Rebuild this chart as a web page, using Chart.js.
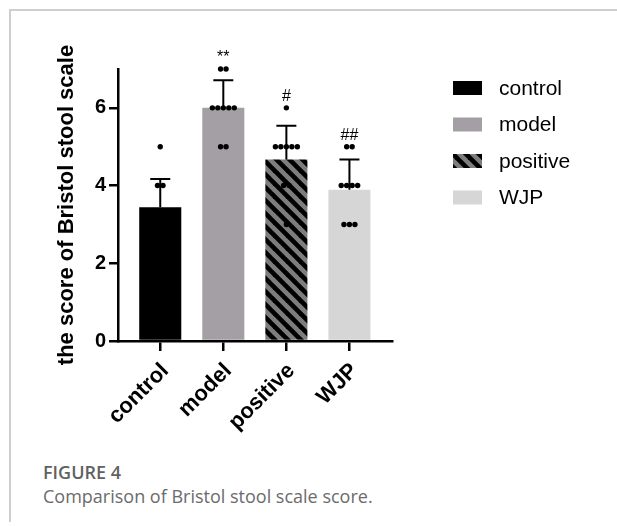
<!DOCTYPE html>
<html>
<head>
<meta charset="utf-8">
<script src="https://cdn.jsdelivr.net/npm/chart.js@4"></script>
<style>
  html, body { margin: 0; padding: 0; background: #fff; }
  #page { position: relative; width: 617px; height: 526px; overflow: hidden; }
  #frame { position: absolute; left: 9px; top: 9px; right: 0; bottom: 4px;
           border-top: 2px solid #cfcfcf; border-left: 2px solid #cfcfcf; }
  #wrap { position: absolute; left: 0; top: 0; width: 617px; height: 440px; }
  #caption { position: absolute; left: 43px; top: 460px; font-family: "Open Sans", sans-serif;
             font-size: 18px; line-height: 24px; color: #6b6b6b; }
  #caption b { font-weight: 600; color: #616161; }
</style>
</head>
<body>
<div id="page">
  <div id="frame"></div>
  <div id="wrap"><canvas id="bristolChart"></canvas></div>
  <div id="caption"><b>FIGURE 4</b><br>Comparison of Bristol stool scale score.</div>
</div>
<script>
// 分组与数据
const groups = ['control', 'model', 'positive', 'WJP'];
const means = [3.44, 6.00, 4.67, 3.89];
const sds = [0.73, 0.71, 0.87, 0.78];
const controlScores = [5, 4, 4, 3, 3, 3, 3, 3, 3];
const modelScores = [7, 7, 6, 6, 6, 6, 6, 5, 5];
const positiveScores = [6, 5, 5, 5, 5, 5, 4, 4, 3];
const wjpScores = [5, 5, 4, 4, 4, 4, 3, 3, 3];
const marks = ['', '**', '#', '##'];
const yTicks = [0, 2, 4, 6];

const allScores = [controlScores, modelScores, positiveScores, wjpScores];

// 斜线填充 (positive)
function makeHatch() {
    const s = 13;
    const c = document.createElement('canvas');
    c.width = s; c.height = s;
    const g = c.getContext('2d');
    g.fillStyle = '#7d7d7d';
    g.fillRect(0, 0, s, s);
    g.strokeStyle = '#000';
    g.lineWidth = 4.6;
    for (let k = -1; k <= 1; k++) {
        g.beginPath();
        g.moveTo(-2, k * s - 2);
        g.lineTo(s + 2, s + k * s + 2);
        g.stroke();
    }
    return g.createPattern(c, 'repeat');
}
const hatch = makeHatch();
const barColors = ['#000000', '#a49fa5', hatch, '#d6d6d6'];

// 散点：相同分值横向排开
const step = 0.087;
const dots = [];
allScores.forEach((scores, i) => {
    const counts = {};
    scores.forEach(v => { counts[v] = (counts[v] || 0) + 1; });
    Object.keys(counts).forEach(v => {
        const n = counts[v];
        for (let k = 0; k < n; k++) {
            dots.push({ x: i + (k - (n - 1) / 2) * step, y: Number(v) });
        }
    });
});

const fontFamily = 'Arial, "Liberation Sans", sans-serif';

// 误差线（只画上半）
const errorBars = {
    id: 'errorBars',
    afterDatasetDraw(chart, args) {
        if (args.index !== 0) return;
        const { ctx, scales: { x, y } } = chart;
        ctx.save();
        ctx.strokeStyle = '#000';
        ctx.lineWidth = 2;
        means.forEach((m, i) => {
            const px = x.getPixelForValue(i);
            const y0 = y.getPixelForValue(m);
            const y1 = y.getPixelForValue(m + sds[i]);
            ctx.beginPath();
            ctx.moveTo(px, y0);
            ctx.lineTo(px, y1);
            ctx.moveTo(px - 10, y1);
            ctx.lineTo(px + 10, y1);
            ctx.stroke();
        });
        ctx.restore();
    }
};

// 显著性标记 + 图例
const extras = {
    id: 'extras',
    afterDraw(chart) {
        const { ctx, chartArea, scales: { x, y } } = chart;
        ctx.save();
        ctx.fillStyle = '#000';
        ctx.font = '16px ' + fontFamily;
        ctx.textAlign = 'center';
        ctx.textBaseline = 'middle';
        marks.forEach((m, i) => {
            if (!m) return;
            const top = Math.max(...allScores[i]);
            ctx.fillText(m, x.getPixelForValue(i), y.getPixelForValue(top) - 11);
        });

        const lx = chartArea.right + 61;
        const ly = chartArea.top + 19;
        ctx.font = '21px ' + fontFamily;
        ctx.textAlign = 'left';
        groups.forEach((g, i) => {
            const cy = ly + i * 36.5;
            ctx.fillStyle = barColors[i];
            ctx.fillRect(lx, cy - 7, 29, 14);
            ctx.fillStyle = '#000';
            ctx.fillText(g, lx + 46, cy + 1);
        });
        ctx.restore();
    }
};

new Chart(document.getElementById('bristolChart'), {
    type: 'bar',
    data: {
        datasets: [
            {
                type: 'bar',
                data: means.map((m, i) => ({ x: i, y: m })),
                backgroundColor: barColors,
                borderWidth: 0,
                barPercentage: 0.667,
                categoryPercentage: 1,
                order: 2
            },
            {
                type: 'scatter',
                data: dots,
                backgroundColor: '#000',
                borderColor: '#000',
                pointRadius: 2.7,
                borderWidth: 0,
                clip: false,
                order: 1
            }
        ]
    },
    options: {
        responsive: true,
        maintainAspectRatio: false,
        animation: false,
        layout: { padding: { top: 69, right: 225, left: 0, bottom: 0 } },
        plugins: { legend: { display: false }, tooltip: { enabled: false } },
        scales: {
            x: {
                type: 'linear',
                offset: false,
                min: -0.67,
                max: 3.675,
                afterBuildTicks: (s) => { s.ticks = groups.map((g, i) => ({ value: i })); },
                afterFit: (s) => { s.height = 99; },
                grid: { offset: false, drawOnChartArea: false, color: '#000', lineWidth: 2.5, tickLength: 10 },
                border: { color: '#000', width: 2.5 },
                ticks: {
                    color: '#000',
                    font: { family: fontFamily, size: 22, weight: 'bold' },
                    minRotation: 45,
                    maxRotation: 45,
                    padding: 7,
                    labelOffset: 5,
                    callback: (v) => groups[Math.round(v)]
                }
            },
            y: {
                min: 0,
                max: 7,
                afterBuildTicks: (s) => { s.ticks = yTicks.map(v => ({ value: v })); },
                afterFit: (s) => { s.width = 118; },
                grid: { drawOnChartArea: false, color: '#000', lineWidth: 2.5, tickLength: 9 },
                border: { color: '#000', width: 2.5 },
                ticks: { color: '#000', font: { family: fontFamily, size: 20, weight: 'bold' }, padding: 3 },
                title: {
                    display: true,
                    text: 'the score of Bristol stool scale',
                    color: '#000',
                    font: { family: fontFamily, size: 22, weight: 'bold' },
                    padding: { top: 54, bottom: 0 }
                }
            }
        }
    },
    plugins: [errorBars, extras]
});
</script>
</body>
</html>
